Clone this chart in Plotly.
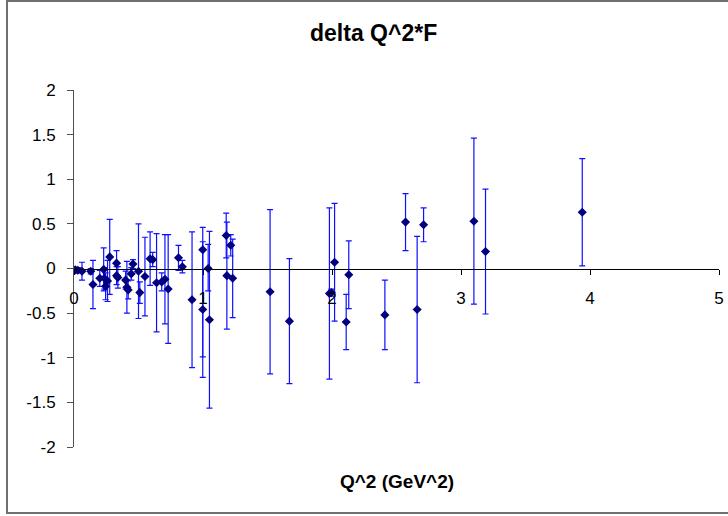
import plotly.graph_objects as go

q2 = [0.01, 0.03, 0.062, 0.13, 0.147, 0.20, 0.23, 0.235, 0.245, 0.26,
      0.277, 0.33, 0.33, 0.34, 0.40, 0.41, 0.42, 0.444, 0.457, 0.50,
      0.51, 0.55, 0.59, 0.61, 0.64, 0.68, 0.705, 0.73, 0.81, 0.84,
      0.915, 0.998, 0.998, 1.04, 1.05, 1.18, 1.185, 1.215, 1.23, 1.52,
      1.67, 1.98, 1.995, 2.02, 2.11, 2.13, 2.41, 2.57, 2.66, 2.71, 3.10,
      3.19, 3.94]
delta = [-0.015, -0.02, -0.03, -0.03, -0.18, -0.11, -0.01, -0.11, -0.20, -0.14,
         0.13, 0.06, -0.08, -0.10, -0.13, -0.21, -0.24, -0.06, 0.05, -0.03,
         -0.27, -0.09, 0.11, 0.10, -0.16, -0.15, -0.12, -0.23, 0.12, 0.02,
         -0.35, 0.21, -0.46, 0.00, -0.575, 0.37, -0.08, 0.26, -0.11, -0.26,
         -0.59, -0.28, -0.27, 0.07, -0.60, -0.07, -0.52, 0.52, -0.46, 0.49, 0.53,
         0.19, 0.63]
err_plus = [0.02, 0.03, 0.10, 0.03, 0.27, 0.09, 0.24, 0.12, 0.15, 0.23,
            0.42, 0.14, 0.10, 0.12, 0.10, 0.29, 0.10, 0.07, 0.05, 0.53,
            0.12, 0.44, 0.30, 0.08, 0.55, 0.10, 0.50, 0.61, 0.14, 0.07,
            0.76, 0.25, 0.76, 0.27, 0.99, 0.25, 0.60, 0.12, 0.44, 0.92,
            0.70, 0.96, 0.04, 0.66, 0.31, 0.38, 0.39, 0.32, 0.82, 0.19, 0.93,
            0.70, 0.60]
err_minus = [0.02, 0.03, 0.10, 0.03, 0.27, 0.09, 0.24, 0.12, 0.15, 0.23,
             0.42, 0.14, 0.10, 0.12, 0.10, 0.29, 0.10, 0.07, 0.05, 0.53,
             0.12, 0.44, 0.30, 0.08, 0.55, 0.10, 0.50, 0.61, 0.14, 0.07,
             0.76, 1.20, 0.76, 0.25, 0.99, 0.25, 0.60, 0.12, 0.44, 0.92,
             0.70, 0.96, 0.04, 0.66, 0.31, 0.38, 0.39, 0.32, 0.82, 0.19, 0.93,
             0.70, 0.60]

x_ticks = [0, 1, 2, 3, 4, 5]
y_ticks = [2, 1.5, 1, 0.5, 0, -0.5, -1, -1.5, -2]
y_tick_text = ["2", "1.5", "1", "0.5", "0", "-0.5", "-1", "-1.5", "-2"]

FONT = "Liberation Sans, Arial, sans-serif"

fig = go.Figure()
fig.add_trace(go.Scatter(
    x=q2, y=delta, mode="markers",
    marker=dict(symbol="diamond", size=7, color="#000080"),
    error_y=dict(type="data", array=err_plus, arrayminus=err_minus,
                 symmetric=False, color="#1010FF", thickness=1.2, width=3),
    showlegend=False,
))

W, H = 728, 516
L, R, T, B = 74, 9, 90, 69
pw, ph = W - L - R, H - T - B

def px(xp):
    return (xp - L) / pw

def py(yp):
    return (H - B - yp) / ph

fig.update_layout(
    width=W, height=H,
    margin=dict(l=L, r=R, t=T, b=B, autoexpand=False),
    paper_bgcolor="white", plot_bgcolor="white",
    font=dict(family=FONT, size=17, color="black"),
    xaxis=dict(range=[0, 5], tickvals=x_ticks, ticktext=[str(v) for v in x_ticks],
               anchor="free", position=0.5, showgrid=False, zeroline=False,
               showline=True, linecolor="black", linewidth=1,
               ticks="outside", ticklen=5, tickcolor="black",
               ticklabelstandoff=9, tickfont=dict(size=17)),
    yaxis=dict(range=[-2, 2], tickvals=y_ticks, ticktext=y_tick_text,
               showgrid=False, zeroline=False, showline=True,
               linecolor="#505050", linewidth=1, ticks="outside", ticklen=6,
               tickcolor="#505050", ticklabelstandoff=8, tickfont=dict(size=17)),
    shapes=[dict(type="rect", xref="paper", yref="paper",
                 x0=px(7), x1=px(740), y0=py(513), y1=py(1),
                 line=dict(color="#707070", width=2), fillcolor="rgba(0,0,0,0)")],
    annotations=[
        dict(text="<b>delta Q^2*F</b>", xref="paper", yref="paper",
             x=px(373), y=py(33), showarrow=False, font=dict(size=23, family=FONT),
             xanchor="center", yanchor="middle"),
        dict(text="<b>Q^2 (GeV^2)</b>", xref="paper", yref="paper",
             x=px(397), y=py(481), showarrow=False, font=dict(size=19, family=FONT),
             xanchor="center", yanchor="middle"),
    ],
)

fig.write_html("out.html", config={"displayModeBar": False},
               post_script="document.body.style.margin='0';document.body.style.overflow='hidden';")
